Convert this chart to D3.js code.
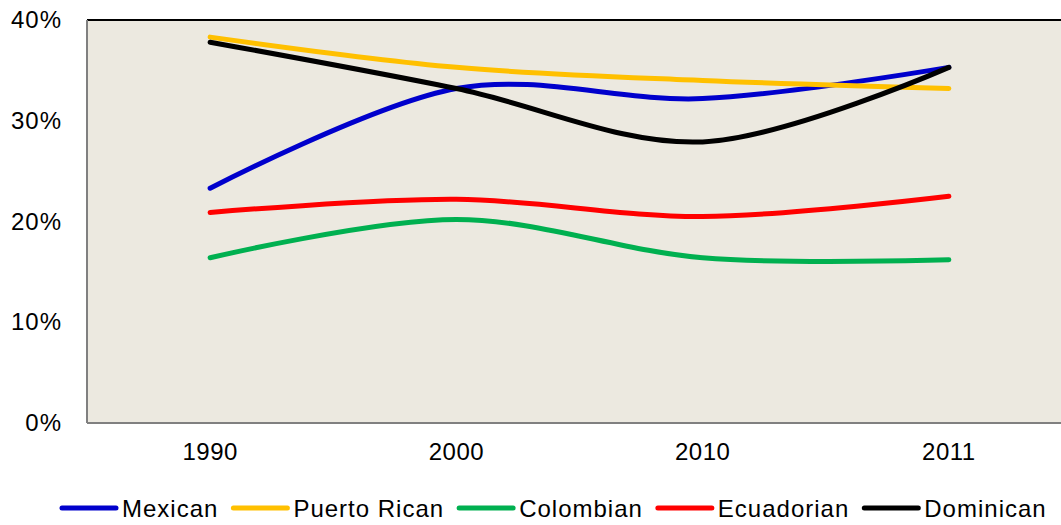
<!DOCTYPE html>
<html>
<head>
<meta charset="utf-8">
<script src="https://cdn.jsdelivr.net/npm/d3@7"></script>
<style>
  body { margin: 0; background: #fff; }
  text { font-family: "Liberation Sans", Arial, sans-serif; fill: #000; }
</style>
</head>
<body>
<div id="chart"></div>
<script>
// chart values
const years = ["1990", "2000", "2010", "2011"];
const mexican = [23.3, 33.2, 32.2, 35.3];
const puertoRican = [38.3, 35.3, 34.0, 33.2];
const colombian = [16.4, 20.2, 16.4, 16.2];
const ecuadorian = [20.9, 22.2, 20.5, 22.5];
const dominican = [37.8, 33.2, 27.9, 35.3];
const yTicks = [0, 10, 20, 30, 40];

const seriesNames = ["Mexican", "Puerto Rican", "Colombian", "Ecuadorian", "Dominican"];
const seriesValues = [mexican, puertoRican, colombian, ecuadorian, dominican];
const seriesColors = ["#0000CC", "#FFC000", "#00B050", "#FF0000", "#000000"];

const W = 1061, H = 525;
const margin = {top: 20, right: -11, bottom: 102, left: 87};
const width = W - margin.left - margin.right,
    height = H - margin.top - margin.bottom;

const svg = d3.select("#chart")
  .append("svg")
    .attr("width", W)
    .attr("height", H);

const g = svg.append("g")
    .attr("transform", `translate(${margin.left},${margin.top})`);

// x is a category axis, y linear in percent
const x = d3.scaleBand()
    .domain(years)
    .range([0, width]);

const y = d3.scaleLinear()
    .domain([0, 40])
    .range([height, 0]);

// plot area
g.append("rect")
    .attr("width", width)
    .attr("height", height)
    .attr("fill", "#ECE9E0");

g.append("line")
    .attr("x1", 0).attr("x2", width)
    .attr("y1", 0).attr("y2", 0)
    .attr("stroke", "#000").attr("stroke-width", 2);
g.append("line")
    .attr("x1", 0).attr("x2", width)
    .attr("y1", height).attr("y2", height)
    .attr("stroke", "#808080").attr("stroke-width", 2);
g.append("line")
    .attr("x1", 0).attr("x2", 0)
    .attr("y1", 0).attr("y2", height)
    .attr("stroke", "#808080").attr("stroke-width", 2);

// y axis labels
const yAxis = g.append("g")
    .call(d3.axisLeft(y).tickValues(yTicks).tickSize(0).tickPadding(25).tickFormat(d => d + "%"));
yAxis.select(".domain").remove();
yAxis.selectAll("text")
    .style("font-size", "24px")
    .style("letter-spacing", "1px")
    .attr("fill", "#000");

// x axis labels
const xAxis = g.append("g")
    .attr("transform", `translate(0,${height})`)
    .call(d3.axisBottom(x).tickSize(0).tickPadding(20));
xAxis.select(".domain").remove();
xAxis.selectAll("text")
    .style("font-size", "24px")
    .style("letter-spacing", "0.5px")
    .attr("fill", "#000");

// smoothed lines
const line = d3.line()
    .x((d, i) => x(years[i]) + x.bandwidth() / 2)
    .y(d => y(d))
    .curve(d3.curveCardinal.tension(0));

g.append("g")
  .selectAll("path")
  .data(seriesValues)
  .join("path")
    .attr("d", d => line(d))
    .attr("fill", "none")
    .attr("stroke", (d, i) => seriesColors[i])
    .attr("stroke-width", 5)
    .attr("stroke-linecap", "round");

// legend
const legend = svg.append("g")
    .attr("transform", "translate(62,508)");
let lx = 0;
seriesNames.forEach((name, i) => {
  const item = legend.append("g").attr("transform", `translate(${lx},0)`);
  item.append("line")
      .attr("x1", 0).attr("x2", 54)
      .attr("y1", 0).attr("y2", 0)
      .attr("stroke", seriesColors[i])
      .attr("stroke-width", 5)
      .attr("stroke-linecap", "round");
  const t = item.append("text")
      .attr("x", 60)
      .attr("y", 9)
      .style("font-size", "24px")
      .style("letter-spacing", "1px")
      .text(name);
  lx += 60 + t.node().getComputedTextLength() + 15;
});
</script>
</body>
</html>
